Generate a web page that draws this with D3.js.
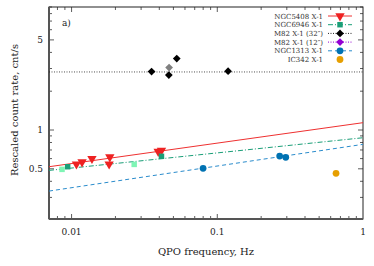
<!DOCTYPE html>
<html>
<head>
<meta charset="utf-8">
<script src="https://d3js.org/d3.v7.min.js"></script>
<style>
  body { margin: 0; background: #fff; }
  text { font-family: "DejaVu Serif", serif; }
</style>
</head>
<body>
  <div id="chart"></div>
  <script>
    // data
    var ngc5408F = [0.0108, 0.0118, 0.0138, 0.0183, 0.0181, 0.0393, 0.0414];
    var ngc5408R = [0.544, 0.565, 0.599, 0.617, 0.544, 0.681, 0.695];
    var ngc6946F = [0.0094, 0.0414];
    var ngc6946R = [0.519, 0.625];
    var ngc6946bF = [0.0086, 0.0269];   // pale squares
    var ngc6946bR = [0.495, 0.541];
    var m82F = [0.0354, 0.0465, 0.0527, 0.1186];
    var m82R = [2.84, 2.67, 3.58, 2.86];
    var m82greyF = [0.0467];
    var m82greyR = [3.05];
    var ngc1313F = [0.0799, 0.268, 0.295];
    var ngc1313R = [0.504, 0.628, 0.614];
    var ic342F = [0.653];
    var ic342R = [0.461];

    // fit lines (end points)
    var fitRed = [[0.007, 0.519], [1, 1.14]];
    var fitGreen = [[0.007, 0.486], [1, 0.871]];
    var fitBlue = [[0.007, 0.336], [1, 0.774]];
    var fitBlack = [[0.007, 2.82], [1, 2.82]];

    var xTicks = [0.01, 0.1, 1];
    var yLabels = [0.5, 1, 5];

    var legendNames = ["NGC5408 X-1", "NGC6946 X-1", "M82 X-1 (32\u2033)", "M82 X-1 (12\u2033)", "NGC1313 X-1", "IC342 X-1"];

    var W = 374, H = 266;
    var margin = {top: 7, right: 11, bottom: 47, left: 49};
    var width = W - margin.left - margin.right;
    var height = H - margin.top - margin.bottom;

    var svg = d3.select("#chart").append("svg")
      .attr("width", W).attr("height", H);
    var g = svg.append("g")
      .attr("transform", "translate(" + margin.left + "," + margin.top + ")");

    var x = d3.scaleLog().domain([0.007, 1]).range([0, width]);
    var y = d3.scaleLog().domain([0.204, 9]).range([height, 0]);

    // minor ticks
    var xMinor = [];
    [0.001, 0.01, 0.1].forEach(function(d) {
      for (var i = 1; i < 10; i++) {
        var v = d * i;
        if (v >= 0.007 && v <= 1) xMinor.push(v);
      }
    });
    var yMinor = [];
    [0.1, 1].forEach(function(d) {
      for (var i = 1; i < 10; i++) {
        var v = d * i;
        if (v >= 0.204 && v <= 9) yMinor.push(v);
      }
    });

    var tickCol = "#333";
    g.selectAll(".xmin").data(xMinor).enter().append("line")
      .attr("x1", function(d) { return x(d); }).attr("x2", function(d) { return x(d); })
      .attr("y1", height).attr("y2", function(d) { return xTicks.indexOf(+d.toPrecision(3)) >= 0 ? height - 5 : height - 3; })
      .attr("stroke", tickCol).attr("stroke-width", 0.8);
    g.selectAll(".xmint").data(xMinor).enter().append("line")
      .attr("x1", function(d) { return x(d); }).attr("x2", function(d) { return x(d); })
      .attr("y1", 0).attr("y2", function(d) { return xTicks.indexOf(+d.toPrecision(3)) >= 0 ? 5 : 3; })
      .attr("stroke", tickCol).attr("stroke-width", 0.8);
    g.selectAll(".ymin").data(yMinor).enter().append("line")
      .attr("y1", function(d) { return y(d); }).attr("y2", function(d) { return y(d); })
      .attr("x1", 0).attr("x2", function(d) { return yLabels.indexOf(+d.toPrecision(3)) >= 0 ? 5 : 3; })
      .attr("stroke", tickCol).attr("stroke-width", 0.8);
    g.selectAll(".yminr").data(yMinor).enter().append("line")
      .attr("y1", function(d) { return y(d); }).attr("y2", function(d) { return y(d); })
      .attr("x1", width).attr("x2", function(d) { return yLabels.indexOf(+d.toPrecision(3)) >= 0 ? width - 5 : width - 3; })
      .attr("stroke", tickCol).attr("stroke-width", 0.8);

    // frame
    g.append("rect").attr("width", width).attr("height", height)
      .attr("fill", "none").attr("stroke", "#222").attr("stroke-width", 1);
    g.append("line").attr("x1", 0).attr("x2", 0).attr("y1", 0).attr("y2", height)
      .attr("stroke", "#555").attr("stroke-width", 2);
    g.append("line").attr("x1", 0).attr("x2", width).attr("y1", height).attr("y2", height)
      .attr("stroke", "#555").attr("stroke-width", 2);

    // tick labels
    g.selectAll(".xl").data(xTicks).enter().append("text")
      .attr("x", function(d) { return x(d); }).attr("y", height + 16)
      .attr("text-anchor", "middle").attr("font-size", 9).attr("fill", "#222")
      .text(function(d) { return d; });
    g.selectAll(".yl").data(yLabels).enter().append("text")
      .attr("x", -6).attr("y", function(d) { return y(d) + 3; })
      .attr("text-anchor", "end").attr("font-size", 9).attr("fill", "#222")
      .text(function(d) { return d; });

    svg.append("text")
      .attr("x", margin.left + width / 2).attr("y", 255)
      .attr("text-anchor", "middle").attr("font-size", 10).attr("fill", "#222")
      .text("QPO frequency, Hz");
    svg.append("text")
      .attr("transform", "translate(18," + (margin.top + 103) + ") rotate(-90)")
      .attr("text-anchor", "middle").attr("font-size", 10).attr("fill", "#222")
      .text("Rescaled count rate, cnt/s");

    g.append("text").attr("x", 13).attr("y", 19).attr("font-size", 9).attr("fill", "#222").text("a)");

    // fit lines
    var line = d3.line().x(function(d) { return x(d[0]); }).y(function(d) { return y(d[1]); });
    var clip = svg.append("clipPath").attr("id", "clip").append("rect").attr("width", width).attr("height", height);
    var lines = g.append("g").attr("clip-path", "url(#clip)");
    lines.append("path").attr("d", line(fitBlack)).attr("fill", "none")
      .attr("stroke", "#222").attr("stroke-width", 0.8).attr("stroke-dasharray", "1,1.5");
    lines.append("path").attr("d", line(fitRed)).attr("fill", "none")
      .attr("stroke", "#ee3030").attr("stroke-width", 1);
    lines.append("path").attr("d", line(fitGreen)).attr("fill", "none")
      .attr("stroke", "#1a9e77").attr("stroke-width", 1).attr("stroke-dasharray", "5,2,1,2");
    lines.append("path").attr("d", line(fitBlue)).attr("fill", "none")
      .attr("stroke", "#2a8ccc").attr("stroke-width", 1).attr("stroke-dasharray", "4,3");

    // markers
    var tri = d3.symbol().type(d3.symbolTriangle).size(38);
    var sq = d3.symbol().type(d3.symbolSquare).size(30);
    var dia = d3.symbol().type(d3.symbolSquare).size(30);  // rotated 45 below
    var circ = d3.symbol().type(d3.symbolCircle).size(36);

    function drawPts(fs, rs, sym, col, rot) {
      g.selectAll(null).data(fs).enter().append("path")
        .attr("d", sym)
        .attr("transform", function(d, i) {
          return "translate(" + x(d) + "," + y(rs[i]) + ")" + (rot ? " rotate(" + rot + ")" : "");
        })
        .attr("fill", col);
    }
    drawPts(ngc6946bF, ngc6946bR, sq, "#7ff5b5");
    drawPts(ngc5408F, ngc5408R, tri, "#ee2222", 180);
    drawPts(ngc6946F, ngc6946R, sq, "#1a9e77");
    drawPts(m82greyF, m82greyR, dia, "#808080", 45);
    drawPts(m82F, m82R, dia, "#000", 45);
    drawPts(ngc1313F, ngc1313R, circ, "#0072b2");
    drawPts(ic342F, ic342R, circ, "#e69f00");

    // legend
    var legCol = ["#ee2222", "#1a9e77", "#000", "#9400d3", "#0072b2", "#e69f00"];
    var legLineCol = ["#ee3030", "#1a9e77", "#222", "#9400d3", "#2a8ccc", null];
    var legDash = [null, "5,2,1,2", "1,1.5", "1,1.5", "4,3", null];
    var legSym = [tri, sq, dia, dia, circ, circ];
    var legRot = [180, 0, 45, 45, 0, 0];
    var leg = svg.append("g");
    legendNames.forEach(function(name, i) {
      var yy = 16 + i * 8.7;
      leg.append("text").attr("x", 323).attr("y", yy + 2.5)
        .attr("text-anchor", "end").attr("font-size", 7).attr("fill", "#333").text(name);
      if (legLineCol[i]) {
        leg.append("line").attr("x1", 328).attr("x2", 352).attr("y1", yy).attr("y2", yy)
          .attr("stroke", legLineCol[i]).attr("stroke-width", 1)
          .attr("stroke-dasharray", legDash[i]);
      }
      leg.append("path").attr("d", legSym[i])
        .attr("transform", "translate(340," + yy + ") rotate(" + legRot[i] + ")")
        .attr("fill", legCol[i]);
    });
  </script>
</body>
</html>
